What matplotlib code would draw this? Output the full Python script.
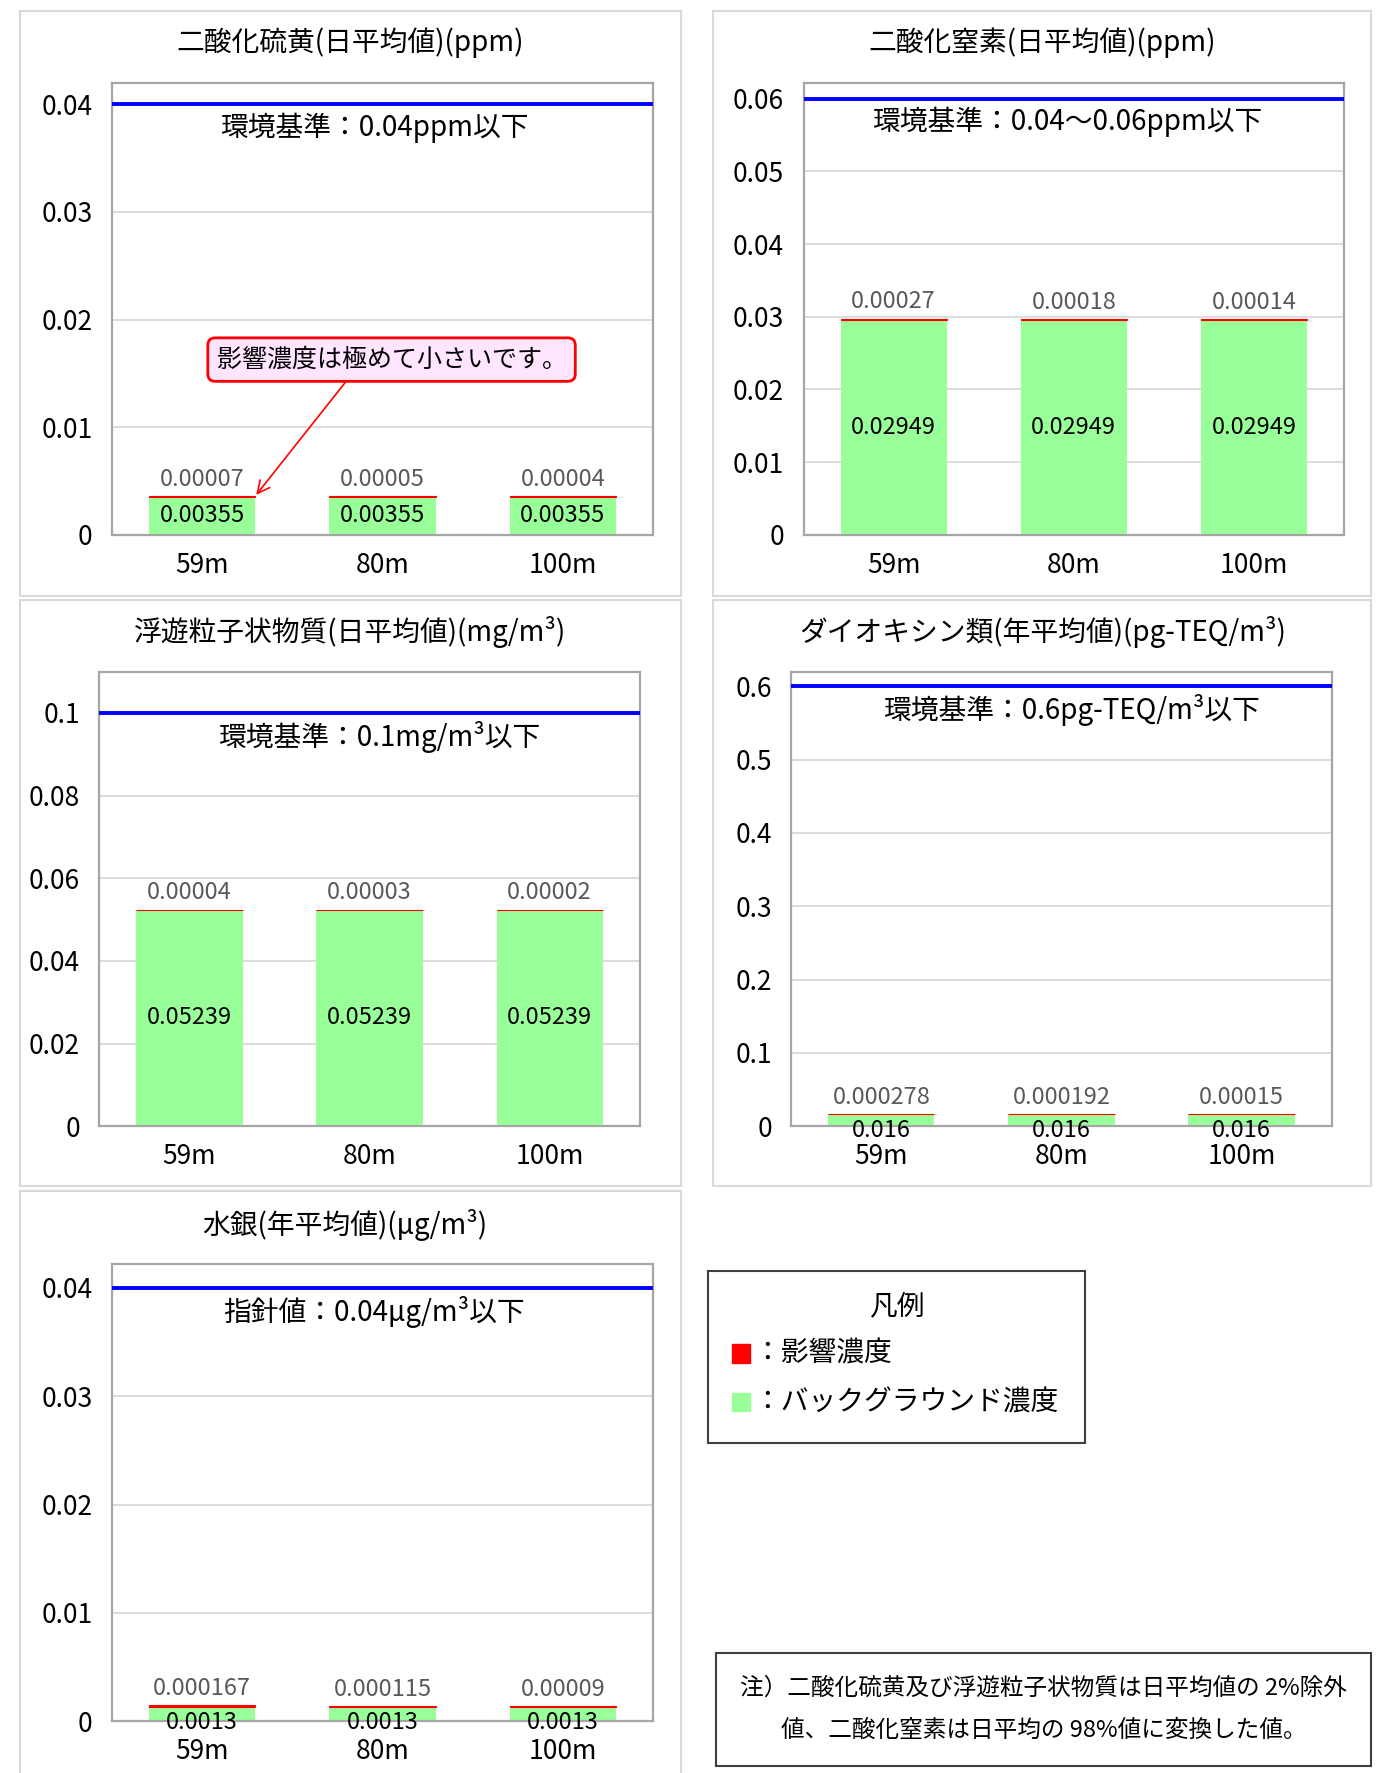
import numpy as np
import matplotlib
matplotlib.use("Agg")
import matplotlib.pyplot as plt
from matplotlib.patches import Rectangle
from matplotlib.ticker import MultipleLocator, FuncFormatter

plt.rcParams['font.family'] = ['Noto Sans CJK JP', 'DejaVu Sans']

# --- data ---
categories = ["59m", "80m", "100m"]

so2_background = [0.00355, 0.00355, 0.00355]
so2_impact = [0.00007, 0.00005, 0.00004]
no2_background = [0.02949, 0.02949, 0.02949]
no2_impact = [0.00027, 0.00018, 0.00014]
spm_background = [0.05239, 0.05239, 0.05239]
spm_impact = [0.00004, 0.00003, 0.00002]
dxn_background = [0.016, 0.016, 0.016]
dxn_impact = [0.000278, 0.000192, 0.00015]
hg_background = [0.0013, 0.0013, 0.0013]
hg_impact = [0.000167, 0.000115, 0.00009]

titles = ["二酸化硫黄(日平均値)(ppm)", "二酸化窒素(日平均値)(ppm)",
          "浮遊粒子状物質(日平均値)(mg/m³)", "ダイオキシン類(年平均値)(pg-TEQ/m³)",
          "水銀(年平均値)(μg/m³)"]
standard_values = [0.04, 0.06, 0.1, 0.6, 0.04]
standard_labels = ["環境基準：0.04ppm以下", "環境基準：0.04～0.06ppm以下",
                   "環境基準：0.1mg/m³以下", "環境基準：0.6pg-TEQ/m³以下",
                   "指針値：0.04μg/m³以下"]
y_max = [0.042, 0.0622, 0.11, 0.62, 0.0422]
y_step = [0.01, 0.01, 0.02, 0.1, 0.01]

backgrounds = [so2_background, no2_background, spm_background, dxn_background, hg_background]
impacts = [so2_impact, no2_impact, spm_impact, dxn_impact, hg_impact]

# --- layout (figure fractions) ---
axes_rects = [(0.0811, 0.6983, 0.3926, 0.2551),
              (0.5828, 0.6983, 0.3918, 0.2551),
              (0.0721, 0.3648, 0.3918, 0.2564),
              (0.5738, 0.3648, 0.3918, 0.2564),
              (0.0811, 0.0293, 0.3926, 0.2577)]
frame_rects = [(0.0148, 0.6639, 0.4787, 0.3297),
               (0.5172, 0.6639, 0.4771, 0.3297),
               (0.0148, 0.3310, 0.4787, 0.3304),
               (0.5172, 0.3310, 0.4771, 0.3304),
               (0.0148, -0.01, 0.4787, 0.3384)]
title_pos = [(0.254, 0.9758), (0.756, 0.9758), (0.254, 0.6435), (0.756, 0.6435), (0.250, 0.3093)]
std_label_x = [0.484, 0.487, 0.517, 0.519, 0.484]
# small bars: label sits a bit below the bar centre
bg_label_dy = [0, 0, 0, -7, -6]

GREEN = '#99FF99'
RED = '#FF0000'

fig = plt.figure(figsize=(13.79, 17.73), dpi=100)


def fmt(v):
    return np.format_float_positional(v, trim='-')


for i in range(5):
    fig.add_artist(Rectangle(frame_rects[i][:2], frame_rects[i][2], frame_rects[i][3],
                             transform=fig.transFigure, fill=False,
                             edgecolor='#D9D9D9', linewidth=1.5))
    fig.text(title_pos[i][0], title_pos[i][1], titles[i], ha='center', va='center', fontsize=20)

    ax = fig.add_axes(axes_rects[i])
    x = np.arange(len(categories))
    bg = backgrounds[i]
    imp = impacts[i]
    ax.bar(x, bg, width=0.59, color=GREEN, zorder=2)
    ax.bar(x, imp, bottom=bg, width=0.59, color=RED, edgecolor=RED, linewidth=0.8, zorder=2)
    ax.axhline(standard_values[i], color='#0000FF', linewidth=2.8, zorder=3)

    ax.set_xlim(-0.5, 2.5)
    ax.set_ylim(0, y_max[i])
    ax.yaxis.set_major_locator(MultipleLocator(y_step[i]))
    ax.yaxis.set_major_formatter(FuncFormatter(lambda v, p: f"{v:.4g}"))
    ax.set_xticks(x, categories)
    ax.tick_params(axis='both', length=0, labelsize=19)
    ax.tick_params(axis='y', pad=14)
    ax.tick_params(axis='x', pad=12)
    ax.grid(axis='y', color='#D9D9D9', linewidth=1.3)
    ax.set_axisbelow(True)
    for sp in ax.spines.values():
        sp.set_color('#A6A6A6')
        sp.set_linewidth(1.6)

    for xi, b, m in zip(x, bg, imp):
        ax.annotate(fmt(b), xy=(xi, b / 2), xytext=(0, bg_label_dy[i]), textcoords='offset points',
                    ha='center', va='center', fontsize=17, color='black', zorder=4,
                    annotation_clip=False)
        ax.annotate(fmt(m), xy=(xi, b + m), xytext=(0, 12), textcoords='offset points',
                    ha='center', va='center', fontsize=17, color='#595959', zorder=4)

    ax.annotate(standard_labels[i], xy=(std_label_x[i], standard_values[i]),
                xycoords=('axes fraction', 'data'), xytext=(0, -17),
                textcoords='offset points', ha='center', va='center', fontsize=20)

    if i == 0:
        ax.annotate("影響濃度は極めて小さいです。", xy=(0.30, 0.00372), xytext=(1.05, 0.01628),
                    ha='center', va='center', fontsize=18, color='black', zorder=5,
                    bbox=dict(boxstyle='round,pad=0.35,rounding_size=0.3', fc='#FFE5FF',
                              ec=RED, lw=2),
                    arrowprops=dict(arrowstyle='->', color=RED, lw=1.2, relpos=(0.39, 0.0),
                                    mutation_scale=22, shrinkA=0, shrinkB=0))

# legend box
fig.add_artist(Rectangle((0.5131, 0.1862), 0.2738, 0.0969, transform=fig.transFigure,
                         fill=False, edgecolor='#404040', linewidth=1.5))
fig.text(0.650, 0.2634, "凡例", ha='center', va='center', fontsize=20)
legend_items = [("：影響濃度", RED), ("：バックグラウンド濃度", GREEN)]
legend_y = [0.2366, 0.2092]
for (label, col), ly in zip(legend_items, legend_y):
    fig.add_artist(Rectangle((0.5311, ly - 0.0051), 0.0131, 0.0102,
                             transform=fig.transFigure, color=col))
    fig.text(0.546, ly, label, ha='left', va='center', fontsize=20)

# note box
fig.add_artist(Rectangle((0.5189, 0.0038), 0.4754, 0.0638, transform=fig.transFigure,
                         fill=False, edgecolor='#404040', linewidth=1.5))
fig.text(0.7566, 0.0478, "注）二酸化硫黄及び浮遊粒子状物質は日平均値の 2%除外",
         ha='center', va='center', fontsize=17)
fig.text(0.7566, 0.0242, "値、二酸化窒素は日平均の 98%値に変換した値。",
         ha='center', va='center', fontsize=17)

fig.savefig("out.png", dpi=100)
